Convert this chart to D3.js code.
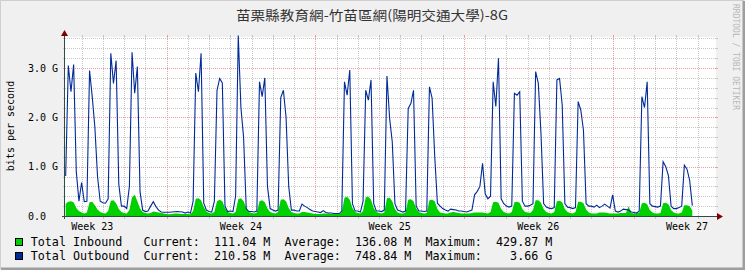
<!DOCTYPE html>
<html>
<head>
<meta charset="utf-8">
<script src="https://cdn.jsdelivr.net/npm/d3@7"></script>
<style>
  body { margin: 0; background: #f0f0f0; }
  svg { display: block; }
  text { font-family: "DejaVu Sans Mono", monospace; }
</style>
</head>
<body>
<svg></svg>
<script>
let width = 745,
  height = 270;

// Chart text
const title = "苗栗縣教育網-竹苗區網(陽明交通大學)-8G";
const yTitle = "bits per second";
const credit = "RRDTOOL / TOBI OETIKER";

// Time range and sampling (3 hour averages)
const startTime = "2024-06-04T05:15Z";
const endTime = "2024-07-04T20:45Z";
const firstSample = "2024-06-04T06:00Z";
const stepHours = 3;

// Total Outbound, Gbit/s, one line per day
const outbound = [
  0.81, 3.05, 2.52, 3.07, 0.9, 0.3,
  0.68, 0.29, 0.3, 2.95, 2.42, 1.8, 0.8, 0.3,
  0.27, 0.26, 0.35, 3.3, 2.69, 3.15, 0.65, 0.2,
  0.2, 0.15, 0.6, 3.32, 2.49, 3.03, 0.5, 0.12,
  0.09, 0.1, 0.2, 0.29, 0.19, 0.12, 0.08, 0.075,
  0.075, 0.075, 0.08, 0.085, 0.09, 0.085, 0.08, 0.06,
  0.08, 0.06, 0.3, 2.9, 2.52, 3.3, 0.26, 0.12,
  0.09, 0.08, 0.3, 2.55, 2.79, 2.7, 0.2, 0.09,
  0.1, 0.09, 0.4, 3.66, 2.2, 1.6, 0.15, 0.09,
  0.09, 0.08, 0.1, 2.72, 2.42, 2.8, 0.6, 0.15,
  0.12, 0.1, 0.12, 2.4, 2.55, 2.0, 0.6, 0.12,
  0.12, 0.1, 0.1, 0.24, 0.2, 0.17, 0.13, 0.1,
  0.09, 0.08, 0.07, 0.11, 0.07, 0.06, 0.06, 0.05,
  0.05, 0.05, 0.1, 2.72, 2.45, 2.96, 0.25, 0.1,
  0.1, 0.08, 0.3, 2.55, 2.35, 2.76, 0.25, 0.1,
  0.1, 0.09, 0.12, 2.84, 1.98, 1.5, 0.25, 0.12,
  0.1, 0.08, 0.1, 2.18, 2.28, 2.55, 0.2, 0.1,
  0.1, 0.09, 0.1, 2.62, 2.39, 1.2, 0.26, 0.2,
  0.15, 0.12, 0.1, 0.14, 0.13, 0.12, 0.1, 0.1,
  0.09, 0.08, 0.1, 0.12, 0.43, 0.5, 0.6, 1.07,
  0.45, 0.35, 0.4, 2.72, 2.22, 3.2, 0.35, 0.25,
  0.2, 0.18, 0.2, 2.49, 2.45, 2.52, 0.3, 0.2,
  0.2, 0.22, 0.25, 2.93, 2.69, 1.68, 0.25, 0.18,
  0.16, 0.15, 0.17, 2.76, 2.79, 2.25, 0.25, 0.18,
  0.17, 0.15, 0.17, 2.32, 2.15, 1.74, 0.25, 0.2,
  0.2, 0.18, 0.22, 0.17, 0.2, 0.24, 0.2, 0.16,
  0.43, 0.1, 0.08, 0.1, 0.14, 0.13, 0.12, 0.08,
  0.07, 0.06, 0.1, 2.42, 2.2, 2.72, 0.25, 0.2,
  0.19, 0.18, 0.2, 1.1, 1.0, 0.82, 0.2, 0.15,
  0.15, 0.17, 0.2, 1.03, 0.95, 0.72, 0.21
];

// Total Inbound, Gbit/s, one line per day
const inbound = [
  0.25, 0.29, 0.3, 0.28, 0.16, 0.1,
  0.07, 0.05, 0.07, 0.28, 0.29, 0.22, 0.13, 0.08,
  0.06, 0.05, 0.1, 0.31, 0.32, 0.26, 0.14, 0.08,
  0.06, 0.05, 0.12, 0.38, 0.43, 0.3, 0.15, 0.08,
  0.06, 0.05, 0.06, 0.09, 0.08, 0.07, 0.06, 0.05,
  0.04, 0.035, 0.04, 0.05, 0.05, 0.045, 0.04, 0.04,
  0.04, 0.035, 0.1, 0.35, 0.36, 0.32, 0.18, 0.09,
  0.06, 0.05, 0.08, 0.3, 0.33, 0.3, 0.16, 0.08,
  0.06, 0.05, 0.08, 0.34, 0.36, 0.3, 0.16, 0.08,
  0.06, 0.05, 0.07, 0.3, 0.32, 0.28, 0.15, 0.08,
  0.06, 0.05, 0.08, 0.33, 0.34, 0.3, 0.16, 0.08,
  0.06, 0.05, 0.05, 0.08, 0.08, 0.07, 0.06, 0.05,
  0.04, 0.04, 0.04, 0.05, 0.05, 0.05, 0.04, 0.04,
  0.04, 0.04, 0.08, 0.37, 0.39, 0.33, 0.16, 0.08,
  0.06, 0.05, 0.1, 0.38, 0.39, 0.33, 0.16, 0.08,
  0.06, 0.05, 0.07, 0.36, 0.37, 0.3, 0.14, 0.07,
  0.05, 0.05, 0.07, 0.33, 0.34, 0.3, 0.15, 0.08,
  0.06, 0.05, 0.06, 0.32, 0.33, 0.3, 0.14, 0.07,
  0.06, 0.05, 0.05, 0.07, 0.08, 0.07, 0.06, 0.05,
  0.05, 0.05, 0.05, 0.06, 0.07, 0.07, 0.07, 0.07,
  0.06, 0.05, 0.08, 0.28, 0.29, 0.27, 0.14, 0.08,
  0.06, 0.05, 0.08, 0.28, 0.29, 0.27, 0.14, 0.08,
  0.07, 0.06, 0.12, 0.32, 0.32, 0.27, 0.14, 0.08,
  0.06, 0.05, 0.08, 0.3, 0.31, 0.28, 0.14, 0.08,
  0.06, 0.05, 0.08, 0.29, 0.29, 0.26, 0.13, 0.07,
  0.05, 0.05, 0.05, 0.07, 0.07, 0.07, 0.06, 0.05,
  0.05, 0.05, 0.05, 0.06, 0.06, 0.06, 0.2, 0.06,
  0.05, 0.05, 0.07, 0.26, 0.27, 0.24, 0.12, 0.07,
  0.05, 0.05, 0.06, 0.26, 0.27, 0.24, 0.12, 0.07,
  0.05, 0.05, 0.07, 0.22, 0.22, 0.2, 0.11
];

// Axis labels
const weekLabels = ["Week 23", "Week 24", "Week 25", "Week 26", "Week 27"];
const weekLabelDates = ["2024-06-05T12:00Z", "2024-06-12T12:00Z", "2024-06-19T12:00Z", "2024-06-26T12:00Z", "2024-07-03T12:00Z"];
const yTicks = [0, 1, 2, 3];
const yLabels = ["0.0", "1.0 G", "2.0 G", "3.0 G"];
const yMax = 3.63;

// Legend
const legendNames = ["Total Inbound", "Total Outbound"];
const legendColors = ["#00cf00", "#002a97"];
const currentVals = ["111.04 M", "210.58 M"];
const averageVals = ["136.08 M", "748.84 M"];
const maximumVals = ["429.87 M", "3.66 G"];

let svg = d3.select("svg").attr("width", width).attr("height", height);

// background + 3D border
svg.append("rect").attr("width", width).attr("height", height).attr("fill", "#f0f0f0");
svg.append("path").attr("d", "M0,269V0H744").attr("fill", "none").attr("stroke", "#cfcfcf").attr("stroke-width", 2);
svg.append("path").attr("d", "M1,269H744V1").attr("fill", "none").attr("stroke", "#9e9e9e").attr("stroke-width", 3);

let x0 = 65, x1 = 716, yBottom = 216, yTop = 37;

let x = d3.scaleUtc().domain([new Date(startTime), new Date(endTime)]).range([x0, x1]);
let y = d3.scaleLinear().domain([0, yMax]).range([yBottom, yTop]);

svg.append("rect").attr("x", x0).attr("y", yTop).attr("width", x1 - x0).attr("height", yBottom - yTop).attr("fill", "#ffffff");

let t0 = new Date(firstSample);
let times = outbound.map((d, i) => new Date(+t0 + i * stepHours * 3600e3));

// grid
let grid = svg.append("g").attr("shape-rendering", "crispEdges");
let minorColor = "#c8c8c8", majorColor = "#ec9c9c";
let px = (v) => Math.round(v) + 0.5;

let hMinor = d3.range(1, 19).filter((i) => i % 5 != 0).map((i) => i * 0.2);
let hMajor = yTicks.slice(1);
hMinor.forEach((v) => {
  grid.append("line").attr("x1", x0).attr("x2", x1).attr("y1", px(y(v))).attr("y2", px(y(v)))
    .attr("stroke", minorColor).attr("stroke-dasharray", "1,1");
  grid.append("line").attr("x1", x0 - 2).attr("x2", x0).attr("y1", px(y(v))).attr("y2", px(y(v))).attr("stroke", minorColor);
  grid.append("line").attr("x1", x1).attr("x2", x1 + 2).attr("y1", px(y(v))).attr("y2", px(y(v))).attr("stroke", minorColor);
});
hMajor.forEach((v) => {
  grid.append("line").attr("x1", x0).attr("x2", x1).attr("y1", px(y(v))).attr("y2", px(y(v)))
    .attr("stroke", majorColor).attr("stroke-dasharray", "1,1");
  grid.append("line").attr("x1", x0 - 2).attr("x2", x0).attr("y1", px(y(v))).attr("y2", px(y(v))).attr("stroke", majorColor);
  grid.append("line").attr("x1", x1).attr("x2", x1 + 2).attr("y1", px(y(v))).attr("y2", px(y(v))).attr("stroke", majorColor);
});

let dom = x.domain();
let days = d3.utcDay.range(dom[0], dom[1]).filter((d) => d.getUTCDay() != 0);
let weeks = d3.utcSunday.range(dom[0], dom[1]);
[[days, minorColor], [weeks, majorColor]].forEach(([list, col]) => {
  list.forEach((d) => {
    let xp = px(x(d));
    grid.append("line").attr("x1", xp).attr("x2", xp).attr("y1", yTop).attr("y2", yBottom)
      .attr("stroke", col).attr("stroke-dasharray", "1,1");
    grid.append("line").attr("x1", xp).attr("x2", xp).attr("y1", yBottom).attr("y2", yBottom + 3).attr("stroke", col);
    grid.append("line").attr("x1", xp).attr("x2", xp).attr("y1", yTop - 2).attr("y2", yTop).attr("stroke", col);
  });
});

// data
let area = d3.area().x((d, i) => x(times[i])).y0(yBottom).y1((d) => y(d));
svg.append("path").datum(inbound).attr("d", area).attr("fill", legendColors[0]);

let line = d3.line().x((d, i) => x(times[i])).y((d) => y(d));
svg.append("path").datum(outbound).attr("d", line).attr("fill", "none")
  .attr("stroke", legendColors[1]).attr("stroke-width", 1.1);

// axes
let axisColor = "#2c4d43", arrowColor = "#7f0000";
svg.append("line").attr("x1", x0 - 3).attr("x2", x1 + 3).attr("y1", yBottom + 0.5).attr("y2", yBottom + 0.5)
  .attr("stroke", axisColor).attr("shape-rendering", "crispEdges");
svg.append("line").attr("x1", x0 - 0.5).attr("x2", x0 - 0.5).attr("y1", yBottom + 3).attr("y2", yTop - 4)
  .attr("stroke", axisColor).attr("shape-rendering", "crispEdges");
svg.append("path").attr("d", `M${x1 + 1},${yBottom - 3}L${x1 + 7},${yBottom + 0.5}L${x1 + 1},${yBottom + 4}Z`).attr("fill", arrowColor);
svg.append("path").attr("d", `M${x0 - 4},${yTop - 1}L${x0 - 0.5},${yTop - 7}L${x0 + 3},${yTop - 1}Z`).attr("fill", arrowColor);

// y labels
svg.append("g").selectAll("text").data(yTicks).enter().append("text")
  .attr("x", 28).attr("y", (d) => y(d) + 3.5)
  .attr("font-size", "10px").attr("fill", "#000")
  .text((d, i) => yLabels[i]);

// x labels
svg.append("g").selectAll("text").data(weekLabelDates).enter().append("text")
  .attr("x", (d) => x(new Date(d))).attr("y", 229.5).attr("text-anchor", "middle")
  .attr("font-size", "10px").attr("fill", "#000")
  .text((d, i) => weekLabels[i]);

// y title
svg.append("text").attr("transform", "translate(14,126) rotate(-90)").attr("text-anchor", "middle")
  .attr("font-size", "10px").attr("fill", "#000").text(yTitle);

// title
svg.append("text").attr("x", 372).attr("y", 20).attr("text-anchor", "middle")
  .style("font-family", "'Noto Sans CJK TC', sans-serif").attr("font-size", "13px").attr("fill", "#333")
  .attr("textLength", 272).attr("lengthAdjust", "spacingAndGlyphs")
  .text(title);

// credit
svg.append("text").attr("transform", "translate(733,4) rotate(90)")
  .attr("font-size", "8px").attr("fill", "#b8b8b8").text(credit);

// legend
let legend = svg.append("g");
legendNames.forEach((name, i) => {
  let yy = 245.5 + i * 14;
  legend.append("rect").attr("x", 15.5).attr("y", yy - 7.5).attr("width", 7).attr("height", 7)
    .attr("fill", legendColors[i]).attr("stroke", "#000").attr("shape-rendering", "crispEdges");
  let row = name.padEnd(16) + "Current:  " + currentVals[i].padStart(8) + "  Average:  " +
    averageVals[i].padStart(8) + "  Maximum:  " + maximumVals[i].padStart(8);
  legend.append("text").attr("x", 30.7).attr("y", yy).attr("xml:space", "preserve")
    .style("white-space", "pre").attr("font-size", "11.7px").attr("fill", "#000")
    .attr("textLength", row.length * 7.05).attr("lengthAdjust", "spacing")
    .text(row);
});
</script>
</body>
</html>
